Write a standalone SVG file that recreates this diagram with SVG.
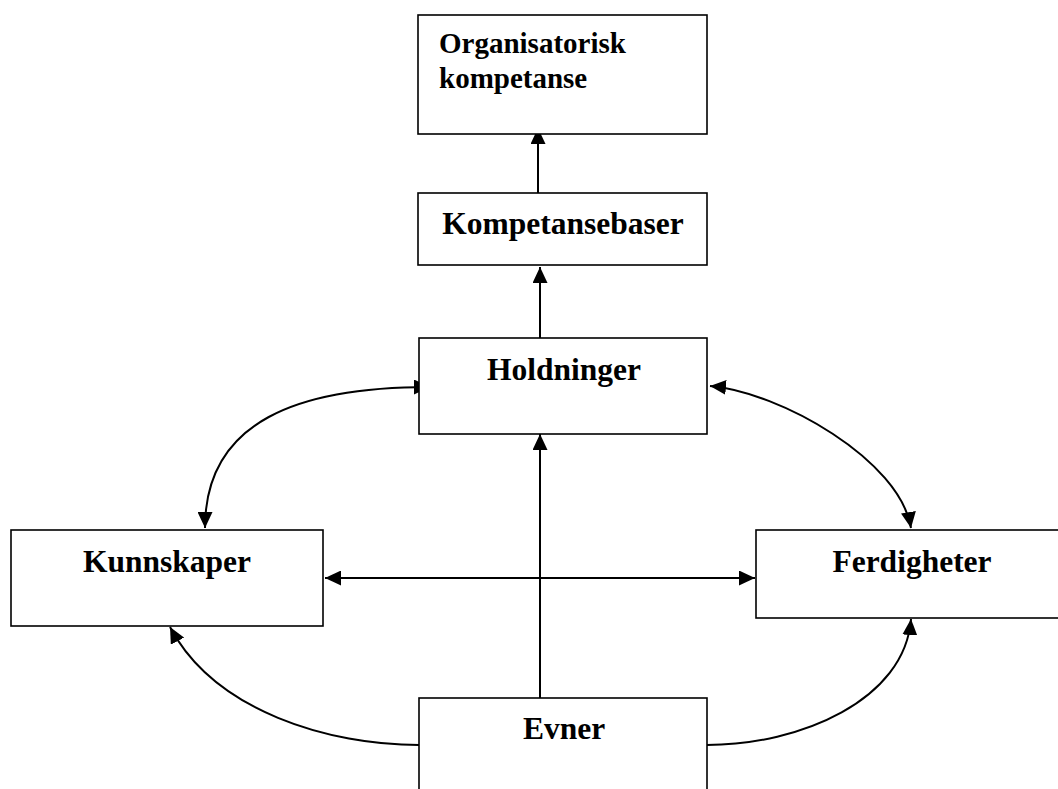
<svg xmlns="http://www.w3.org/2000/svg" width="1058" height="789" viewBox="0 0 1058 789">
  <style>
    .box { fill: #ffffff; stroke: #000000; stroke-width: 1.6; }
    .lbl { font-family: "Liberation Serif", "Times New Roman", serif; font-weight: bold; font-size: 31.5px; fill: #000000; }
    .lbl-sm { font-family: "Liberation Serif", "Times New Roman", serif; font-weight: bold; font-size: 29px; fill: #000000; }
    .edge { fill: none; stroke: #000000; stroke-width: 2; }
  </style>
  <defs>
    <marker id="arrow" markerUnits="userSpaceOnUse" markerWidth="17" markerHeight="15" refX="16" refY="7.5" orient="auto-start-reverse">
      <path d="M0,0 L16,7.5 L0,15 z" fill="#000000"/>
    </marker>
  </defs>

  <rect width="1058" height="789" fill="#ffffff"/>

  <!-- connectors -->
  <g id="connectors">
    <!-- Kompetansebaser -> Organisatorisk kompetanse -->
    <path class="edge" d="M538,193 L538,128" marker-end="url(#arrow)"/>
    <!-- Holdninger -> Kompetansebaser -->
    <path class="edge" d="M540,338 L540,267" marker-end="url(#arrow)"/>
    <!-- Evner -> Holdninger -->
    <path class="edge" d="M540,698 L540,434" marker-end="url(#arrow)"/>
    <!-- Kunnskaper <-> Ferdigheter -->
    <path class="edge" d="M325,578 L755,578" marker-start="url(#arrow)" marker-end="url(#arrow)"/>
    <!-- Holdninger <-> Kunnskaper -->
    <path class="edge" d="M430,387 C300,387 205,420 205,528" marker-start="url(#arrow)" marker-end="url(#arrow)"/>
    <!-- Holdninger <-> Ferdigheter -->
    <path class="edge" d="M710,386 C780,392 900,460 911,528" marker-start="url(#arrow)" marker-end="url(#arrow)"/>
    <!-- Evner -> Kunnskaper -->
    <path class="edge" d="M419,745 C330,745 215,712 170,627" marker-end="url(#arrow)"/>
    <!-- Evner -> Ferdigheter -->
    <path class="edge" d="M707,745 C800,745 905,700 911,619" marker-end="url(#arrow)"/>
  </g>

  <g id="node-organisatorisk">
    <rect class="box" x="418" y="15" width="289" height="119"/>
    <text class="lbl-sm" x="439" y="53">Organisatorisk</text>
    <text class="lbl-sm" x="439" y="88">kompetanse</text>
  </g>

  <g id="node-kompetansebaser">
    <rect class="box" x="418" y="193" width="289" height="72"/>
    <text class="lbl" x="563" y="234" text-anchor="middle">Kompetansebaser</text>
  </g>

  <g id="node-holdninger">
    <rect class="box" x="419" y="338" width="288" height="96"/>
    <text class="lbl" x="564" y="380" text-anchor="middle">Holdninger</text>
  </g>

  <g id="node-kunnskaper">
    <rect class="box" x="11" y="530" width="312" height="96"/>
    <text class="lbl" x="167" y="572" text-anchor="middle">Kunnskaper</text>
  </g>

  <g id="node-ferdigheter">
    <rect class="box" x="756" y="530" width="320" height="88"/>
    <text class="lbl" x="912" y="572" text-anchor="middle">Ferdigheter</text>
  </g>

  <g id="node-evner">
    <rect class="box" x="419" y="698" width="288" height="110"/>
    <text class="lbl" x="564" y="739" text-anchor="middle">Evner</text>
  </g>
</svg>
